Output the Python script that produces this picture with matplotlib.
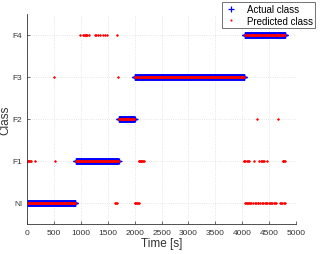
import numpy as np
import matplotlib.pyplot as plt

plt.rcParams['font.family'] = ['Liberation Sans', 'DejaVu Sans']

class_labels = ["NI", "F1", "F2", "F3", "F4"]

# true class segments: start [s], end [s], class index
seg_start = [0, 905, 1705, 2000, 4045]
seg_end = [900, 1700, 2000, 4040, 4800]
seg_class = [0, 1, 2, 3, 4]
step = 5

# misclassified samples: time [s], predicted class
err_t = [985, 1040, 1060, 1075, 1090, 1100, 1115, 1160, 1270, 1290, 1310, 1350, 1410, 1440, 1480, 1670,
         500, 1690,
         4270, 4660,
         0, 10, 20, 40, 60, 75, 145, 515,
         2075, 2090, 2100, 2110, 2125, 2140, 2160, 2175,
         4025, 4040, 4060, 4080, 4100, 4125, 4220, 4315, 4340, 4360, 4380, 4405, 4455,
         4750, 4765, 4780, 4795,
         1640, 1650, 1680,
         2000, 2015, 2030, 2045, 2060, 2080,
         4050, 4065, 4085, 4110, 4135, 4150, 4170, 4200, 4240, 4260, 4290, 4300, 4330,
         4370, 4395, 4420, 4440, 4470, 4490, 4520, 4540, 4560, 4590, 4610, 4630,
         4700, 4720, 4740, 4770, 4790]
err_c = [4] * 16 + [3] * 2 + [2] * 2 + [1] * 8 + [1] * 8 + [1] * 13 + [1] * 4 + [0] * 3 + [0] * 6 + [0] * 30

t_actual = []
c_actual = []
for s, e, c in zip(seg_start, seg_end, seg_class):
    tt = np.arange(s, e + 1, step)
    t_actual.extend(tt)
    c_actual.extend([c] * len(tt))
t_actual = np.array(t_actual)
c_actual = np.array(c_actual)

# predicted = actual, except at the misclassified samples
c_pred = c_actual.copy()
for t, c in zip(err_t, err_c):
    idx = np.argmin(np.abs(t_actual - t))
    c_pred[idx] = c
t_pred = np.concatenate([t_actual, err_t])
c_pred = np.concatenate([c_pred, err_c])

fig = plt.figure(figsize=(3.26, 2.55), dpi=100)
ax = fig.add_axes([0.083, 0.118, 0.825, 0.824])

ax.plot(t_actual, c_actual, '+', color='#0000ff', ms=4.5, mew=0.9, label='Actual class')
ax.plot(t_pred, c_pred, '.', color='#ff0000', ms=3.0, mew=0, label='Predicted class')

ax.set_xlim(0, 5000)
ax.set_ylim(-0.5, 4.5)
ax.set_xticks(np.arange(0, 5001, 500))
ax.set_yticks(range(5))
ax.set_yticklabels(class_labels)
ax.grid(True, linestyle=':', color='#dddddd', linewidth=0.6)
ax.tick_params(labelsize=6, colors='#333333', direction='in', length=2, width=0.5)
for s in ['top', 'right']:
    ax.spines[s].set_visible(False)
for s in ['left', 'bottom']:
    ax.spines[s].set_color('#333333')
    ax.spines[s].set_linewidth(0.6)

ax.set_xlabel('Time [s]', fontsize=8.5, color='#333333', labelpad=1)
ax.set_ylabel('Class', fontsize=8.5, color='#333333', labelpad=1)

leg = fig.legend(loc='upper right', bbox_to_anchor=(0.982, 1.008), fontsize=7,
                 frameon=True, fancybox=False, handlelength=1.4, borderpad=0.25,
                 labelspacing=0.15, handletextpad=0.9, markerscale=1.0)
leg.get_frame().set_edgecolor('#333333')
leg.get_frame().set_linewidth(0.6)

fig.savefig('out.png', dpi=100)
